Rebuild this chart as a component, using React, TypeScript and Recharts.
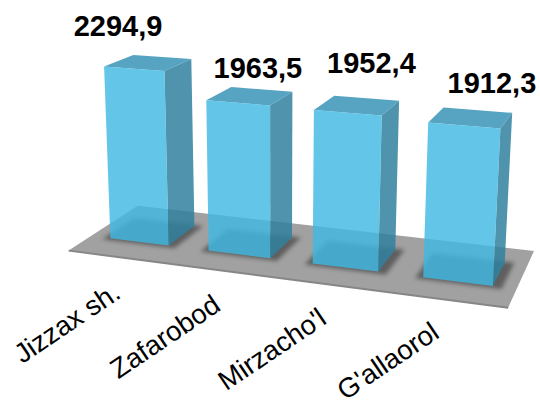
import { Bar, BarChart, Customized, LabelList, XAxis, YAxis } from "recharts"

const districts = ["Jizzax sh.", "Zafarobod", "Mirzacho'l", "G'allaorol"]
const totals = [2294.9, 1963.5, 1952.4, 1912.3]
const chartData = districts.map((name, i) => ({ name, value: totals[i] }))

// hand placed label offsets, the original chart has them dragged around
const labelNudges = [
  [-16, -43],
  [20, -35],
  [24, -50],
  [28, -43],
]

const WIDTH = 540
const HEIGHT = 405
const PLOT_LEFT = 70
const BAR_DEPTH = 0.6
const FLOOR_FRONT = -0.44
const FLOOR_BACK = 1

// camera for the tilted floor: world x and height in hundreds of chart px, z is depth
function project(x: number, h: number, z: number) {
  const w = -0.028137 * x - 0.019614 * h + 0.078315 * z + 1
  return [
    (91.790104 * x - 5.445968 * h + 57.115781 * z + 91.411256) / w,
    (5.128189 * x - 94.363298 * h - 13.929861 * z + 235.857943) / w,
  ]
}

const toPoints = (corners: number[][]) =>
  corners.map(([x, h, z]) => project(x, h, z).map((n) => n.toFixed(1)).join(",")).join(" ")

function Floor() {
  const [a, b] = [project(0, 0, FLOOR_FRONT), project(4, 0, FLOOR_FRONT)]
  return (
    <g>
      <defs>
        <filter id="soft" x="-30%" y="-30%" width="160%" height="160%">
          <feGaussianBlur stdDeviation="2.2" />
        </filter>
      </defs>
      <polygon
        points={toPoints([
          [0, 0, FLOOR_FRONT],
          [0, 0, FLOOR_BACK],
          [4, 0, FLOOR_BACK],
          [4, 0, FLOOR_FRONT],
        ])}
        fill="#a1a1a1"
      />
      <line x1={a[0]} y1={a[1]} x2={b[0]} y2={b[1]} stroke="#868686" strokeWidth={2} />
    </g>
  )
}

function Bar3D(props: any) {
  const { x, width, height } = props
  const x0 = (x - PLOT_LEFT) / 100
  const x1 = (x + width - PLOT_LEFT) / 100
  const h = height / 100
  const d = BAR_DEPTH
  return (
    <g>
      <polygon
        points={toPoints([
          [x0 - 0.06, 0, -0.05],
          [x0 - 0.06, 0, d + 0.03],
          [x1 + 0.08, 0, d + 0.03],
          [x1 + 0.08, 0, -0.05],
        ])}
        fill="#4a4a4a"
        opacity={0.75}
        filter="url(#soft)"
      />
      <polygon points={toPoints([[x1, 0, 0], [x1, 0, d], [x1, h, d], [x1, h, 0]])} fill="#31809e" fillOpacity={0.85} />
      <polygon points={toPoints([[x0, h, 0], [x0, h, d], [x1, h, d], [x1, h, 0]])} fill="#489bbd" fillOpacity={0.92} />
      <polygon points={toPoints([[x0, 0, 0], [x0, h, 0], [x1, h, 0], [x1, 0, 0]])} fill="#41b9e3" fillOpacity={0.82} />
    </g>
  )
}

function ValueLabel(props: any) {
  const box = props.viewBox ?? props
  const { index, value } = props
  const mid = (box.x + box.width / 2 - PLOT_LEFT) / 100
  const [px, py] = project(mid, box.height / 100, 0)
  return (
    <text
      x={px + labelNudges[index][0]}
      y={py + labelNudges[index][1]}
      textAnchor="middle"
      dominantBaseline="central"
      fontFamily="Liberation Sans"
      fontWeight="bold"
      fontSize={29}
      fill="#000"
    >
      {String(value).replace(".", ",")}
    </text>
  )
}

function CategoryTick(props: any) {
  const { x, payload } = props
  const [px, py] = project((x - PLOT_LEFT) / 100, 0, 0)
  const ex = px - 17
  const ey = py + 55
  return (
    <text
      x={ex}
      y={ey}
      textAnchor="end"
      transform={`rotate(-34 ${ex} ${ey})`}
      fontFamily="Liberation Sans"
      fontSize={27.5}
      fill="#000"
    >
      {payload.value}
    </text>
  )
}

export default function App() {
  return (
    <div style={{ position: "absolute", left: 0, top: 0, width: WIDTH, height: HEIGHT }}>
      <BarChart
        width={WIDTH}
        height={HEIGHT}
        data={chartData}
        barCategoryGap="20%"
        margin={{ top: 100, right: PLOT_LEFT, bottom: 75, left: PLOT_LEFT }}
      >
        <Customized component={Floor} />
        <XAxis dataKey="name" height={30} axisLine={false} tickLine={false} interval={0} tick={<CategoryTick />} />
        <YAxis hide domain={[0, 2500]} />
        <Bar dataKey="value" isAnimationActive={false} shape={<Bar3D />}>
          <LabelList dataKey="value" content={<ValueLabel />} />
        </Bar>
      </BarChart>
    </div>
  )
}
